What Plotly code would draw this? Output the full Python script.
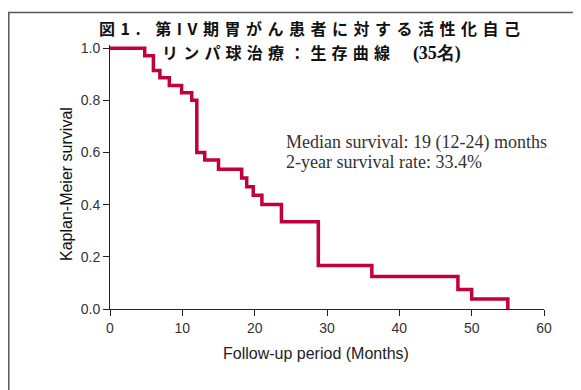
import plotly.graph_objects as go

# Kaplan-Meier step data (months, survival probability)
months = [0, 4.8, 6.0, 6.9, 8.2, 9.9, 11.3, 12.0, 13.1, 15.0, 18.2, 18.9, 19.8, 21.0, 23.7, 28.8, 36.2, 48.1, 50.0, 55.0]
survival = [1.0, 0.971, 0.914, 0.886, 0.857, 0.829, 0.800, 0.600, 0.571, 0.536, 0.502, 0.469, 0.436, 0.401, 0.334, 0.167, 0.125, 0.075, 0.038, 0.0]

x_ticks = [0, 10, 20, 30, 40, 50, 60]
y_ticks = [0.0, 0.2, 0.4, 0.6, 0.8, 1.0]
y_tick_labels = ["0.0", "0.2", "0.4", "0.6", "0.8", "1.0"]

title_line1 = "図1. 第IV期胃がん患者に対する活性化自己"
title_line2 = "リンパ球治療：生存曲線  "
title_count = "(35名)"
stats_line1 = "Median survival: 19 (12-24) months"
stats_line2 = "2-year survival rate: 33.4%"
x_title = "Follow-up period (Months)"
y_title = "Kaplan-Meier survival"

W, H = 573, 382
ML, MR, MT, MB = 102, 37, 37, 81
PW, PH = W - ML - MR, H - MT - MB


def px(xa):
    # absolute window x (page has 8px body margin) -> paper coordinate
    return (xa - 8 - ML) / PW


def py(ya):
    return 1 - (ya - 8 - MT) / PH


fig = go.Figure()
fig.add_trace(go.Scatter(
    x=months, y=survival, mode="lines",
    line=dict(color="#c2003c", width=3.5, shape="hv"),
    showlegend=False, hoverinfo="skip",
))

tick_font = dict(family="Liberation Sans, Arial, sans-serif", size=14, color="#333333")

fig.update_layout(
    width=W, height=H,
    margin=dict(l=ML, r=MR, t=MT, b=MB),
    paper_bgcolor="white", plot_bgcolor="white",
    xaxis=dict(
        range=[0, 60], tickvals=x_ticks, ticks="outside", ticklen=6,
        tickcolor="#222", showline=True, linecolor="#222", linewidth=1,
        showgrid=False, zeroline=False, tickfont=tick_font,
    ),
    yaxis=dict(
        range=[0, 1.012], tickvals=y_ticks, ticktext=y_tick_labels,
        ticks="outside", ticklen=6, tickcolor="#222",
        showline=True, linecolor="#222", linewidth=1,
        showgrid=False, zeroline=False, tickfont=tick_font,
    ),
)

# outer frame (top and left edges visible)
fig.add_shape(type="rect", xref="paper", yref="paper",
              x0=px(8.8), x1=px(600), y0=py(420), y1=py(12.5),
              line=dict(color="#555555", width=1.5), fillcolor="rgba(0,0,0,0)")

cjk = "Noto Sans CJK JP, sans-serif"
fig.add_annotation(xref="paper", yref="paper", x=px(311.5), y=py(28),
                   text="<span style='letter-spacing:5.5px'><b>" + title_line1 + "</b></span>",
                   showarrow=False, xanchor="center", yanchor="middle", borderpad=0,
                   font=dict(family=cjk, size=16, color="#111111"))
fig.add_annotation(xref="paper", yref="paper", x=px(311), y=py(51.5),
                   text="<span style='letter-spacing:5.2px'><b>" + title_line2 + "</b></span>"
                        "<span style='font-family:Liberation Serif;font-size:18px'><b>" + title_count + "</b></span>",
                   showarrow=False, xanchor="center", yanchor="middle", borderpad=0,
                   font=dict(family=cjk, size=16, color="#111111"))

stats_font = dict(family="Liberation Serif, Times New Roman, serif", size=18, color="#333333")
fig.add_annotation(xref="paper", yref="paper", x=px(284), y=py(142),
                   text=stats_line1, showarrow=False, xanchor="left", yanchor="middle",
                   font=stats_font)
fig.add_annotation(xref="paper", yref="paper", x=px(284), y=py(162),
                   text=stats_line2, showarrow=False, xanchor="left", yanchor="middle",
                   font=stats_font)

fig.add_annotation(xref="paper", yref="paper", x=px(316), y=py(353),
                   text=x_title, showarrow=False, xanchor="center", yanchor="middle",
                   font=dict(family="Liberation Sans, Arial, sans-serif", size=16, color="#222222"))
fig.add_annotation(xref="paper", yref="paper", x=px(66), y=py(184),
                   text=y_title, showarrow=False, textangle=-90,
                   xanchor="center", yanchor="middle",
                   font=dict(family="Liberation Sans, Arial, sans-serif", size=16, color="#111111"))

fig.write_html("out.html")
